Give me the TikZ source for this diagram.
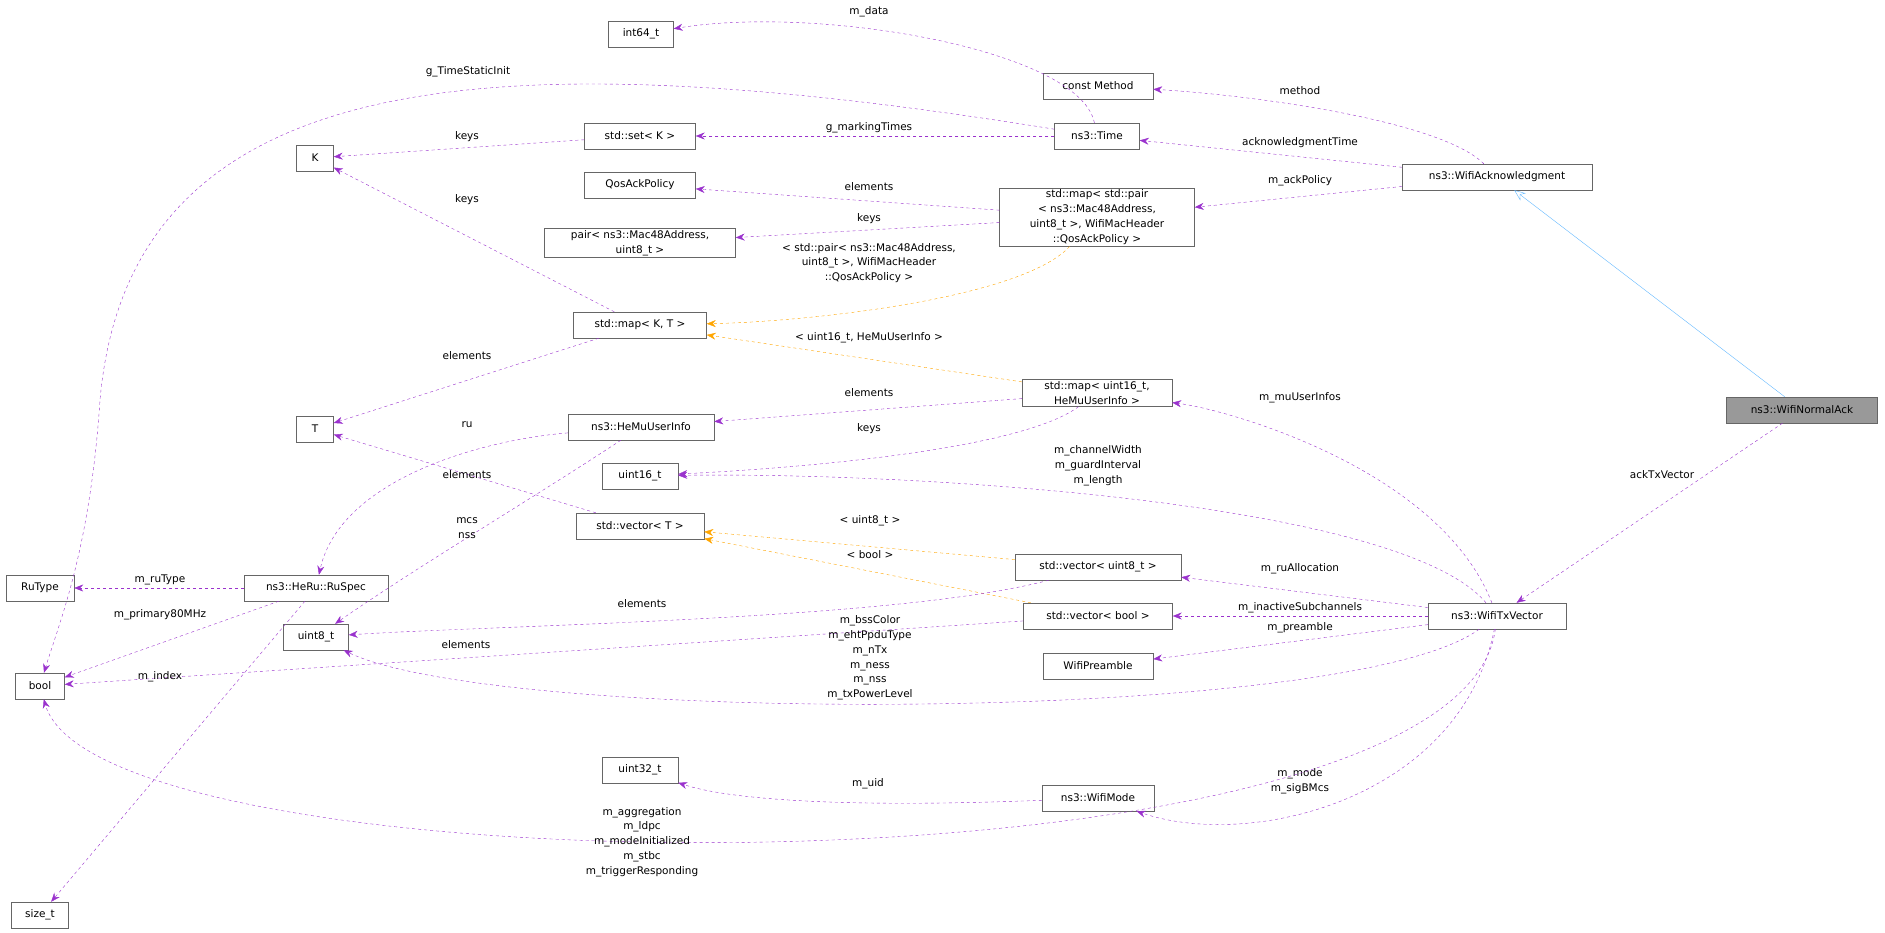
\documentclass[tikz,border=0pt]{standalone}
\usepackage{fontspec}
\setmainfont{DejaVu Sans}
\usetikzlibrary{arrows.meta, positioning}
\definecolor{memb}{HTML}{9A32CD}
\definecolor{tmpl}{HTML}{FFA500}
\definecolor{inher}{HTML}{63B8FF}
\begin{document}
\begin{tikzpicture}[
    x=1pt, y=-1pt,
    font=\fontsize{10.5}{14.8}\selectfont,
    cls/.style={draw=black!60, fill=white, inner sep=2pt, minimum height=26, align=center},
    cur/.style={cls, fill=black!40},
    member/.style={draw=memb, dashed, -{Stealth[length=9pt, width=7pt]}},
    templ/.style={draw=tmpl, dashed, -{Stealth[length=9pt, width=7pt]}},
    isa/.style={draw=inher, -{Stealth[open, length=11pt, width=9pt]}},
    lbl/.style={align=center, inner sep=0pt}
]
\useasboundingbox (0,0) rectangle (1885,933);

% Classes
\node[cls, minimum width=65] (int64) at (641,34) {int64\_t};
\node[cls, minimum width=110] (method) at (1098,86) {const Method};
\node[cls, minimum width=111] (setK) at (640,136) {std::set< K >};
\node[cls, minimum width=85] (time) at (1097,136) {ns3::Time};
\node[cls, minimum width=190] (ack) at (1497,177) {ns3::WifiAcknowledgment};
\node[cls, minimum width=37] (K) at (315,158) {K};
\node[cls, minimum width=111] (qos) at (640,185) {QosAckPolicy};
\node[cls, minimum width=195] (mappair) at (1097,217) {std::map< std::pair\\< ns3::Mac48Address,\\ uint8\_t >, WifiMacHeader\\::QosAckPolicy >};
\node[cls, minimum width=191] (pair) at (640,243) {pair< ns3::Mac48Address,\\uint8\_t >};
\node[cls, minimum width=133] (mapKT) at (640,325) {std::map< K, T >};
\node[cls, minimum width=150] (mapU) at (1097,393) {std::map< uint16\_t,\\HeMuUserInfo >};
\node[cur, minimum width=151] (normal) at (1802,410) {ns3::WifiNormalAck};
\node[cls, minimum width=37] (T) at (315,429) {T};
\node[cls, minimum width=146] (hemu) at (641,427) {ns3::HeMuUserInfo};
\node[cls, minimum width=76] (u16) at (640,476) {uint16\_t};
\node[cls, minimum width=128] (vecT) at (640,526) {std::vector< T >};
\node[cls, minimum width=166] (vecU8) at (1098,567) {std::vector< uint8\_t >};
\node[cls, minimum width=68] (rutype) at (40,588) {RuType};
\node[cls, minimum width=144] (ruspec) at (316,588) {ns3::HeRu::RuSpec};
\node[cls, minimum width=149] (vecB) at (1098,616) {std::vector< bool >};
\node[cls, minimum width=138] (txv) at (1497,616) {ns3::WifiTxVector};
\node[cls, minimum width=65] (u8) at (316,637) {uint8\_t};
\node[cls, minimum width=49] (bool) at (40,686) {bool};
\node[cls, minimum width=110] (pre) at (1098,666) {WifiPreamble};
\node[cls, minimum width=76] (u32) at (640,770) {uint32\_t};
\node[cls, minimum width=112] (mode) at (1098,798) {ns3::WifiMode};
\node[cls, minimum width=57] (sizet) at (40,915) {size\_t};

% Inheritance
\draw[isa] (normal) -- (ack);

% Template instances
\draw[templ] (mappair) .. controls (1020,300) and (800,322) .. (mapKT)
  node[lbl, at={(869,263)}] {< std::pair< ns3::Mac48Address,\\uint8\_t >, WifiMacHeader\\::QosAckPolicy >};
\draw[templ] (mapU) -- (mapKT) node[lbl, at={(869,338)}] {< uint16\_t, HeMuUserInfo >};
\draw[templ] (vecU8) -- (vecT) node[lbl, at={(870,521)}] {< uint8\_t >};
\draw[templ] (vecB) -- (vecT) node[lbl, at={(870,555)}] {< bool >};

% Members
\draw[member] (time) .. controls (1080,50) and (820,5) .. (int64) node[lbl, at={(869,12)}] {m\_data};
\draw[member] (time) .. controls (500,40) and (130,60) .. (100,400) .. controls (90,550) and (60,620) .. (bool)
  node[lbl, at={(468,72)}] {g\_TimeStaticInit};
\draw[member] (time) -- (setK) node[lbl, at={(869,128)}] {g\_markingTimes};
\draw[member] (setK) -- (K) node[lbl, at={(467,137)}] {keys};
\draw[member] (ack) .. controls (1440,120) and (1250,95) .. (method) node[lbl, at={(1300,91)}] {method};
\draw[member] (ack) -- (time) node[lbl, at={(1300,143)}] {acknowledgmentTime};
\draw[member] (ack) -- (mappair) node[lbl, at={(1300,181)}] {m\_ackPolicy};
\draw[member] (normal) -- (txv) node[lbl, at={(1662,475)}] {ackTxVector};
\draw[member] (mappair) -- (qos) node[lbl, at={(869,187)}] {elements};
\draw[member] (mappair) -- (pair) node[lbl, at={(869,219)}] {keys};
\draw[member] (mapKT) -- (K) node[lbl, at={(467,200)}] {keys};
\draw[member] (mapKT) -- (T) node[lbl, at={(467,356)}] {elements};
\draw[member] (mapU) -- (hemu) node[lbl, at={(869,393)}] {elements};
\draw[member] (mapU) .. controls (1020,450) and (800,468) .. (u16) node[lbl, at={(869,429)}] {keys};
\draw[member] (txv) .. controls (1440,470) and (1230,410) .. (mapU) node[lbl, at={(1300,398)}] {m\_muUserInfos};
\draw[member] (txv) .. controls (1400,500) and (900,472) .. (u16)
  node[lbl, at={(1098,466)}] {m\_channelWidth\\m\_guardInterval\\m\_length};
\draw[member] (hemu) .. controls (480,440) and (340,480) .. (ruspec) node[lbl, at={(467,425)}] {ru};
\draw[member] (hemu) .. controls (530,500) and (420,565) .. (u8) node[lbl, at={(467,528)}] {mcs\\nss};
\draw[member] (vecT) -- (T) node[lbl, at={(467,475)}] {elements};
\draw[member] (vecU8) .. controls (900,620) and (500,625) .. (u8) node[lbl, at={(642,604)}] {elements};
\draw[member] (vecB) -- (bool) node[lbl, at={(466,645)}] {elements};
\draw[member] (txv) -- (vecU8) node[lbl, at={(1300,569)}] {m\_ruAllocation};
\draw[member] (txv) -- (vecB) node[lbl, at={(1300,608)}] {m\_inactiveSubchannels};
\draw[member] (txv) -- (pre) node[lbl, at={(1300,628)}] {m\_preamble};
\draw[member] (txv) .. controls (1350,725) and (500,725) .. (u8)
  node[lbl, at={(870,658)}] {m\_bssColor\\m\_ehtPpduType\\m\_nTx\\m\_ness\\m\_nss\\m\_txPowerLevel};
\draw[member] (ruspec) -- (rutype) node[lbl, at={(160,580)}] {m\_ruType};
\draw[member] (ruspec) -- (bool) node[lbl, at={(160,615)}] {m\_primary80MHz};
\draw[member] (ruspec) -- (sizet) node[lbl, at={(160,677)}] {m\_index};
\draw[member] (mode) .. controls (850,808) and (730,800) .. (u32) node[lbl, at={(868,784)}] {m\_uid};
\draw[member] (txv) .. controls (1460,800) and (1250,850) .. (mode) node[lbl, at={(1300,781)}] {m\_mode\\m\_sigBMcs};
\draw[member] (txv) .. controls (1460,905) and (100,895) .. (bool)
  node[lbl, at={(642,842)}] {m\_aggregation\\m\_ldpc\\m\_modeInitialized\\m\_stbc\\m\_triggerResponding};
\end{tikzpicture}
\end{document}
